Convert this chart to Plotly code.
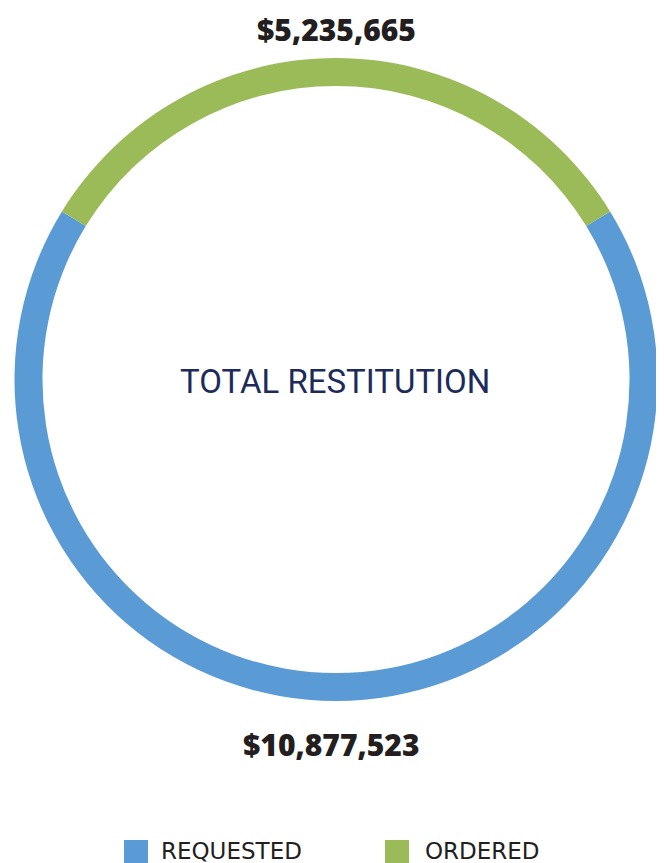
import plotly.graph_objects as go

labels = ["REQUESTED", "ORDERED"]
values = [10877523, 5235665]
colors = ["#5b9bd5", "#9bbb59"]
value_text = ["$10,877,523", "$5,235,665"]
center_title = "TOTAL RESTITUTION"

# page body has an 8px margin, so size the figure to fit the 664x863 window
OFF = 8
W, H = 664 - OFF, 863 - OFF


def px(x):
    return (x - OFF) / W


def py(y):
    return 1 - (y - OFF) / H


total = sum(values)
ordered_frac = values[1] / total
# rotate so the ORDERED slice is centred at 12 o'clock (clockwise)
rotation = (ordered_frac * 360) / 2

fig = go.Figure(go.Pie(
    labels=labels,
    values=values,
    hole=0.913,
    sort=False,
    direction="clockwise",
    rotation=rotation,
    marker=dict(colors=colors, line=dict(width=0)),
    textinfo="none",
    hoverinfo="label+value",
    showlegend=False,
    domain=dict(x=[px(14), px(658)], y=[py(701), py(58)]),
))

ann = []
num_font = dict(family="'Open Sans', Lato, sans-serif", size=30, color="#231f20", weight=800)
ann.append(dict(text=value_text[1], x=px(336), y=py(8), xref="paper", yref="paper",
                showarrow=False, font=num_font, xanchor="center", yanchor="top",
                borderpad=0))
ann.append(dict(text=value_text[0], x=px(331), y=py(744), xref="paper", yref="paper",
                showarrow=False, font=num_font, xanchor="center", yanchor="middle",
                borderpad=0))
ann.append(dict(text=center_title, x=px(335), y=py(382), xref="paper", yref="paper",
                showarrow=False,
                font=dict(family="'Liberation Sans Narrow', Roboto, sans-serif",
                          size=33, color="#1c2b5a", weight=400),
                xanchor="center", yanchor="middle"))

shapes = []
leg_x = [124, 385]
txt_x = [160, 424]
for i, lab in enumerate(labels):
    shapes.append(dict(type="rect", xref="paper", yref="paper",
                       x0=px(leg_x[i]), x1=px(leg_x[i] + 24),
                       y0=py(864), y1=py(840),
                       fillcolor=colors[i], line=dict(width=0)))
    ann.append(dict(text=lab, x=px(txt_x[i]), y=py(851), xref="paper", yref="paper",
                    showarrow=False, xanchor="left", yanchor="middle", borderpad=0,
                    font=dict(family="'DejaVu Sans', sans-serif", size=23, color="#231f20")))

fig.update_layout(
    width=W, height=H,
    margin=dict(l=0, r=0, t=0, b=0),
    paper_bgcolor="white", plot_bgcolor="white",
    annotations=ann, shapes=shapes,
)

fig.write_html("out.html")
